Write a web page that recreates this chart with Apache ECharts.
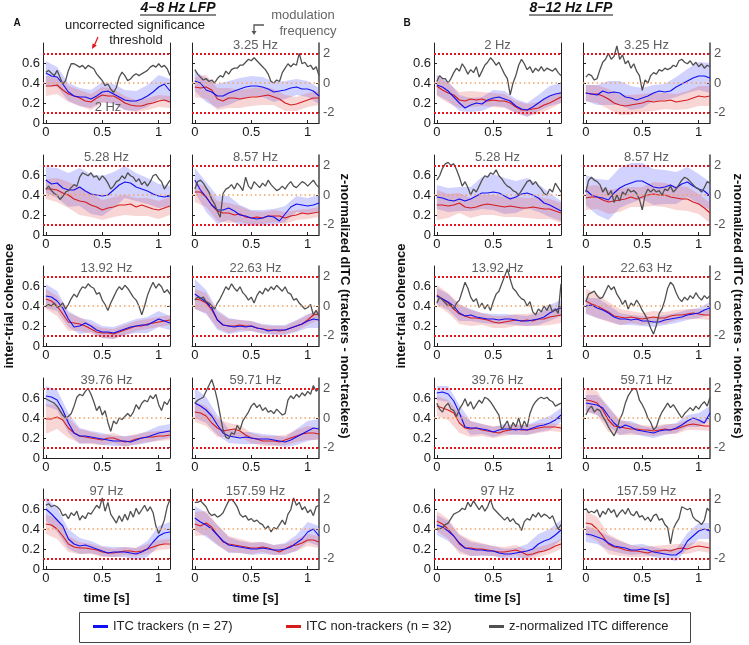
<!DOCTYPE html>
<html><head><meta charset="utf-8">
<script src="https://cdn.jsdelivr.net/npm/echarts@6/dist/echarts.min.js"></script>
<style>html,body{margin:0;padding:0;background:#fff}#main{width:749px;height:645px}</style>
</head><body><div id="main"></div>
<script>
// ---------- time bases ----------
const tMean = [0,0.05,0.1,0.15,0.2,0.25,0.3,0.35,0.4,0.45,0.5,0.55,0.6,0.65,0.7,0.75,0.8,0.85,0.9,0.95,1.0,1.05,1.1];
const tBand = [0,0.1,0.2,0.3,0.4,0.5,0.6,0.7,0.8,0.9,1.0,1.1];
const tGray = [0,0.025,0.05,0.075,0.1,0.125,0.15,0.175,0.2,0.225,0.25,0.275,0.3,0.325,0.35,0.375,0.4,0.425,0.45,0.475,0.5,0.525,0.55,0.575,0.6,0.625,0.65,0.675,0.7,0.725,0.75,0.775,0.8,0.825,0.85,0.875,0.9,0.925,0.95,0.975,1.0,1.025,1.05,1.075,1.1];
const freqLabels = ['2 Hz','3.25 Hz','5.28 Hz','8.57 Hz','13.92 Hz','22.63 Hz','39.76 Hz','59.71 Hz','97 Hz','157.59 Hz'];
const xTicks = [0,0.5,1];
const leftTicks = [0,0.2,0.4,0.6];
const rightTicks = [-2,0,2];
const seriesNames = ['ITC trackers (n = 27)','ITC non-trackers (n = 32)','z-normalized ITC difference'];

// ---------- A: 4-8 Hz LFP ----------
const A1_blue = [0.5,0.47,0.46,0.39,0.31,0.27,0.26,0.26,0.24,0.27,0.31,0.32,0.29,0.26,0.23,0.22,0.22,0.24,0.27,0.31,0.36,0.39,0.32];
const A1_red = [0.37,0.37,0.38,0.33,0.29,0.27,0.25,0.22,0.21,0.25,0.28,0.27,0.27,0.24,0.2,0.18,0.17,0.17,0.19,0.2,0.22,0.23,0.21];
const A1_blueBand = [0.12,0.1,0.09,0.09,0.09,0.1,0.1,0.1,0.1,0.11,0.12,0.12];
const A1_redBand = [0.1,0.09,0.08,0.08,0.08,0.08,0.07,0.07,0.06,0.06,0.06,0.06];
const A1_gray = [0.73,0.85,0.66,0.5,0.85,0.39,-0.07,0.16,0.85,1.3,1.3,1.19,1.07,1.19,0.96,1.19,1.07,0.96,0.62,0.39,0.16,-0.18,-0.07,-0.41,-0.64,-0.3,0.39,0.73,0.5,0.16,0.27,0.5,0.62,0.5,0.62,0.73,0.85,1.07,1.19,1.07,1.3,1.07,1.19,0.96,0.5];

const A2_blue = [0.42,0.4,0.33,0.31,0.27,0.27,0.3,0.32,0.34,0.36,0.37,0.37,0.36,0.34,0.31,0.32,0.33,0.35,0.36,0.34,0.34,0.32,0.27];
const A2_red = [0.36,0.35,0.36,0.33,0.24,0.22,0.25,0.25,0.24,0.25,0.26,0.26,0.27,0.28,0.26,0.24,0.2,0.18,0.19,0.21,0.23,0.25,0.25];
const A2_blueBand = [0.1,0.12,0.12,0.12,0.11,0.1,0.1,0.1,0.09,0.08,0.08,0.08];
const A2_redBand = [0.1,0.12,0.11,0.1,0.09,0.09,0.09,0.08,0.08,0.07,0.07,0.07];
const A2_gray = [0.9,0.6,0.4,0.2,0.3,0.1,0.2,0.0,0.3,0.5,0.4,0.8,0.6,0.9,1.0,1.0,1.2,1.2,1.4,1.6,1.5,1.7,1.5,1.3,1.1,0.9,0.6,0.1,0.0,0.2,0.1,0.7,1.0,1.3,1.1,1.3,1.2,2.0,1.3,1.4,1.1,1.2,0.9,1.1,0.5];

const A3_blue = [0.55,0.51,0.52,0.47,0.45,0.45,0.48,0.44,0.41,0.4,0.39,0.4,0.45,0.5,0.53,0.52,0.48,0.46,0.44,0.41,0.39,0.38,0.39];
const A3_red = [0.46,0.46,0.45,0.42,0.4,0.36,0.34,0.33,0.3,0.28,0.25,0.27,0.28,0.3,0.3,0.31,0.28,0.3,0.28,0.26,0.25,0.27,0.29];
const A3_blueBand = [0.13,0.15,0.17,0.19,0.2,0.2,0.18,0.16,0.14,0.13,0.12,0.1];
const A3_redBand = [0.1,0.12,0.13,0.14,0.12,0.1,0.1,0.1,0.09,0.09,0.09,0.09];
const A3_gray = [0.4,0.6,0.3,0.1,0.0,-0.3,-0.1,0.2,0.3,0.5,0.7,0.6,1.2,1.5,1.4,1.3,1.5,1.2,1.3,1.0,1.3,1.1,0.8,0.4,0.6,0.9,1.0,1.3,1.1,1.5,1.3,1.2,0.9,1.1,0.7,0.9,0.6,0.9,1.3,1.4,1.1,0.9,0.4,0.7,1.0];

const A4_blue = [0.55,0.45,0.38,0.3,0.25,0.25,0.27,0.24,0.2,0.19,0.17,0.16,0.17,0.19,0.18,0.14,0.21,0.28,0.31,0.3,0.29,0.3,0.32];
const A4_red = [0.43,0.43,0.38,0.3,0.24,0.22,0.22,0.2,0.21,0.18,0.17,0.18,0.17,0.19,0.19,0.19,0.17,0.19,0.2,0.22,0.21,0.22,0.23];
const A4_blueBand = [0.12,0.15,0.14,0.12,0.1,0.08,0.08,0.08,0.08,0.08,0.08,0.08];
const A4_redBand = [0.1,0.1,0.1,0.1,0.08,0.07,0.06,0.06,0.06,0.05,0.05,0.05];
const A4_gray = [0.4,0.9,1.0,0.8,0.5,0.2,-0.3,-0.6,-1.1,-1.5,0.1,0.4,0.5,0.7,0.4,0.8,0.6,0.3,1.2,0.6,0.4,0.9,0.7,0.5,0.8,0.6,1.0,0.7,0.5,0.3,0.4,0.6,0.4,0.7,0.9,0.6,0.5,0.7,0.9,0.8,0.6,0.8,1.0,0.7,0.5];

const A5_blue = [0.5,0.49,0.45,0.38,0.27,0.19,0.2,0.23,0.2,0.16,0.14,0.14,0.13,0.15,0.17,0.19,0.2,0.21,0.21,0.24,0.27,0.25,0.23];
const A5_red = [0.47,0.45,0.4,0.32,0.24,0.23,0.22,0.2,0.17,0.14,0.13,0.13,0.12,0.14,0.16,0.18,0.2,0.2,0.22,0.23,0.24,0.25,0.26];
const A5_blueBand = [0.12,0.1,0.08,0.08,0.06,0.06,0.06,0.06,0.07,0.08,0.08,0.07];
const A5_redBand = [0.1,0.1,0.09,0.07,0.05,0.05,0.05,0.05,0.05,0.05,0.05,0.05];
const A5_gray = [0.0,0.1,0.0,0.2,-0.1,0.0,0.2,-0.2,0.1,0.5,0.8,0.6,1.0,1.3,1.2,1.5,1.3,1.2,0.8,0.9,0.4,0.1,-0.3,0.2,0.6,1.0,1.3,1.1,1.4,1.2,0.9,0.6,0.4,0.0,-0.6,0.0,0.7,1.2,1.6,1.2,1.5,1.3,0.9,1.1,0.8];

const A6_blue = [0.52,0.48,0.44,0.38,0.26,0.21,0.2,0.19,0.2,0.19,0.2,0.18,0.17,0.15,0.16,0.16,0.16,0.18,0.2,0.22,0.25,0.27,0.26];
const A6_red = [0.47,0.46,0.43,0.36,0.26,0.21,0.2,0.2,0.21,0.2,0.2,0.18,0.17,0.16,0.16,0.15,0.16,0.18,0.2,0.22,0.26,0.31,0.32];
const A6_blueBand = [0.15,0.12,0.1,0.08,0.06,0.05,0.05,0.05,0.05,0.06,0.07,0.08];
const A6_redBand = [0.1,0.1,0.08,0.07,0.05,0.05,0.04,0.04,0.04,0.05,0.05,0.06];
const A6_gray = [0.4,0.6,0.5,0.6,0.3,0.2,0.0,-0.2,0.2,0.5,0.9,1.3,1.1,1.5,1.2,1.0,1.3,0.9,0.7,0.4,0.6,0.2,0.7,1.0,0.8,1.2,1.0,1.3,1.1,1.4,1.2,1.0,1.3,0.9,0.8,0.4,0.5,0.2,0.0,-0.2,-0.1,0.1,-0.6,-0.3,-0.7];

const A7_blue = [0.62,0.61,0.58,0.48,0.35,0.25,0.22,0.22,0.21,0.2,0.19,0.18,0.17,0.17,0.17,0.16,0.18,0.2,0.21,0.23,0.25,0.26,0.27];
const A7_red = [0.39,0.39,0.41,0.38,0.3,0.25,0.22,0.21,0.2,0.19,0.18,0.2,0.2,0.18,0.16,0.17,0.19,0.2,0.21,0.21,0.22,0.22,0.23];
const A7_blueBand = [0.1,0.1,0.1,0.08,0.06,0.06,0.05,0.05,0.05,0.06,0.07,0.07];
const A7_redBand = [0.15,0.12,0.1,0.07,0.06,0.05,0.05,0.05,0.05,0.05,0.05,0.05];
const A7_gray = [1.3,1.2,1.1,1.0,0.8,0.5,0.2,0.0,0.1,0.3,0.8,1.4,1.6,1.5,1.8,2.0,1.6,1.1,0.5,0.8,0.2,0.5,-0.3,-0.9,-0.2,-0.4,0.0,-0.1,0.1,0.3,0.1,0.4,0.9,0.6,1.0,1.2,1.1,1.5,1.3,1.6,0.9,0.5,1.1,0.9,1.3];

const A8_blue = [0.55,0.52,0.48,0.42,0.33,0.25,0.22,0.21,0.2,0.21,0.2,0.19,0.19,0.19,0.18,0.17,0.16,0.18,0.21,0.24,0.27,0.3,0.29];
const A8_red = [0.46,0.45,0.42,0.35,0.3,0.27,0.28,0.29,0.27,0.23,0.2,0.19,0.17,0.17,0.17,0.16,0.18,0.2,0.22,0.24,0.25,0.25,0.24];
const A8_blueBand = [0.15,0.13,0.1,0.07,0.06,0.06,0.05,0.05,0.05,0.08,0.1,0.1];
const A8_redBand = [0.1,0.1,0.09,0.07,0.06,0.05,0.05,0.05,0.05,0.06,0.07,0.06];
const A8_gray = [1.0,1.2,1.3,1.4,1.8,2.2,2.6,2.0,1.2,0.2,-0.8,-1.3,-1.4,-1.0,-1.1,-0.5,-0.8,-0.2,0.1,0.4,0.8,1.0,0.7,0.9,0.5,0.7,0.4,0.5,0.3,0.6,0.4,0.2,0.3,1.2,1.5,1.3,1.6,1.4,1.7,1.5,1.8,1.6,2.2,1.8,2.0];

const A9_blue = [0.6,0.55,0.49,0.43,0.3,0.25,0.23,0.24,0.22,0.2,0.18,0.16,0.17,0.17,0.17,0.16,0.15,0.17,0.2,0.27,0.33,0.36,0.37];
const A9_red = [0.45,0.44,0.4,0.33,0.25,0.22,0.21,0.21,0.2,0.19,0.17,0.16,0.16,0.17,0.18,0.18,0.17,0.18,0.2,0.22,0.24,0.25,0.25];
const A9_blueBand = [0.12,0.12,0.1,0.08,0.06,0.05,0.05,0.05,0.06,0.08,0.1,0.1];
const A9_redBand = [0.1,0.1,0.08,0.06,0.05,0.05,0.04,0.04,0.04,0.05,0.05,0.05];
const A9_gray = [1.6,1.7,1.5,1.6,1.5,1.3,0.9,1.0,0.7,1.1,0.9,1.2,0.6,0.9,0.7,1.1,1.0,1.3,1.6,1.4,2.1,1.2,1.8,1.0,0.7,0.4,0.9,0.5,1.0,0.6,1.2,0.8,1.4,1.0,1.3,1.6,1.2,1.5,1.1,0.2,-0.3,0.1,0.6,1.5,2.0];

const A10_blue = [0.51,0.47,0.44,0.4,0.34,0.28,0.24,0.23,0.22,0.21,0.2,0.2,0.21,0.2,0.19,0.19,0.2,0.22,0.26,0.3,0.37,0.4,0.33];
const A10_red = [0.45,0.43,0.46,0.42,0.34,0.27,0.25,0.24,0.23,0.22,0.21,0.21,0.22,0.21,0.19,0.17,0.2,0.23,0.24,0.26,0.29,0.29,0.27];
const A10_blueBand = [0.12,0.12,0.1,0.08,0.06,0.06,0.06,0.05,0.06,0.08,0.1,0.1];
const A10_redBand = [0.12,0.12,0.1,0.08,0.07,0.06,0.05,0.05,0.05,0.06,0.06,0.06];
const A10_gray = [1.8,1.8,1.9,1.7,1.5,1.1,0.9,1.0,0.8,0.9,1.1,1.5,1.9,2.0,1.8,1.5,1.0,0.8,0.9,0.6,0.7,0.5,0.6,0.4,0.3,0.0,0.2,-0.2,0.1,0.0,0.3,0.6,0.3,1.0,1.3,2.1,1.6,1.8,1.3,1.5,1.1,1.3,0.9,1.5,1.6];

// ---------- B: 8-12 Hz LFP ----------
const B1_blue = [0.38,0.36,0.32,0.26,0.2,0.15,0.18,0.2,0.19,0.23,0.25,0.26,0.24,0.22,0.17,0.14,0.13,0.16,0.2,0.24,0.27,0.29,0.3];
const B1_red = [0.37,0.33,0.3,0.28,0.23,0.22,0.24,0.23,0.24,0.22,0.23,0.22,0.22,0.2,0.16,0.13,0.13,0.14,0.15,0.18,0.2,0.23,0.26];
const B1_blueBand = [0.1,0.1,0.08,0.07,0.07,0.08,0.08,0.07,0.07,0.08,0.1,0.1];
const B1_redBand = [0.1,0.1,0.08,0.08,0.07,0.07,0.07,0.06,0.06,0.06,0.06,0.06];
const B1_gray = [0.1,0.5,0.3,0.3,0.0,0.3,0.7,1.0,0.8,1.3,1.0,0.6,0.9,0.7,1.1,0.4,0.8,1.2,1.4,1.7,1.5,1.2,1.4,1.0,0.6,0.3,-0.8,0.0,0.5,1.2,1.6,1.3,0.9,1.1,0.7,1.0,0.8,1.1,0.8,1.0,0.9,0.8,1.0,0.7,0.5];

const B2_blue = [0.3,0.29,0.28,0.32,0.3,0.31,0.3,0.26,0.25,0.23,0.25,0.27,0.3,0.32,0.31,0.32,0.36,0.39,0.42,0.45,0.47,0.47,0.45];
const B2_red = [0.3,0.29,0.29,0.27,0.24,0.2,0.18,0.17,0.18,0.19,0.2,0.22,0.21,0.22,0.22,0.23,0.21,0.22,0.23,0.25,0.27,0.26,0.27];
const B2_blueBand = [0.08,0.1,0.12,0.12,0.12,0.1,0.08,0.08,0.1,0.12,0.14,0.15];
const B2_redBand = [0.08,0.09,0.1,0.1,0.1,0.09,0.09,0.08,0.08,0.09,0.1,0.1];
const B2_gray = [0.4,0.6,0.5,0.2,0.3,0.9,1.4,1.6,2.0,1.6,1.8,2.5,1.6,1.9,1.3,1.5,1.0,1.3,0.8,0.5,-0.5,0.2,0.0,0.5,0.7,0.6,0.9,0.8,1.0,0.9,1.0,1.2,1.1,1.5,1.6,1.4,1.3,1.5,1.2,1.4,1.1,1.3,1.0,1.2,1.1];

const B3_blue = [0.38,0.37,0.35,0.34,0.36,0.34,0.36,0.39,0.42,0.42,0.43,0.42,0.39,0.36,0.38,0.41,0.42,0.4,0.37,0.32,0.3,0.27,0.24];
const B3_red = [0.3,0.3,0.29,0.3,0.32,0.28,0.27,0.28,0.3,0.31,0.3,0.29,0.28,0.29,0.28,0.27,0.27,0.28,0.27,0.26,0.26,0.24,0.22];
const B3_blueBand = [0.12,0.12,0.12,0.12,0.16,0.18,0.18,0.16,0.15,0.14,0.12,0.1];
const B3_redBand = [0.15,0.12,0.1,0.1,0.1,0.1,0.1,0.1,0.1,0.11,0.1,0.1];
const B3_gray = [1.0,1.3,1.8,2.1,2.2,2.0,2.1,1.7,1.2,0.6,0.9,0.5,0.0,0.4,0.2,0.6,1.0,1.3,1.2,1.5,1.4,1.7,1.3,1.1,0.8,0.6,0.5,0.3,0.2,0.0,0.3,0.6,0.9,1.0,0.7,0.9,0.6,0.4,0.1,0.0,0.4,0.2,0.8,0.5,0.2];

const B4_blue = [0.45,0.4,0.38,0.37,0.35,0.42,0.47,0.5,0.52,0.54,0.54,0.51,0.48,0.47,0.48,0.5,0.47,0.51,0.53,0.49,0.46,0.44,0.39];
const B4_red = [0.37,0.38,0.38,0.35,0.33,0.34,0.35,0.36,0.38,0.36,0.38,0.4,0.41,0.4,0.4,0.38,0.37,0.36,0.36,0.33,0.31,0.27,0.22];
const B4_blueBand = [0.15,0.18,0.2,0.2,0.2,0.18,0.18,0.17,0.16,0.15,0.15,0.14];
const B4_redBand = [0.12,0.12,0.12,0.12,0.1,0.1,0.12,0.12,0.12,0.12,0.1,0.1];
const B4_gray = [0.2,1.0,1.2,1.0,0.9,0.7,0.2,0.5,0.0,0.3,-0.5,0.0,-0.4,0.2,0.0,0.4,0.2,0.3,0.1,-0.3,-1.0,0.0,0.4,0.2,0.4,0.2,0.3,0.0,0.4,0.3,0.6,0.2,0.4,0.7,1.0,1.2,1.1,0.9,0.7,0.5,0.4,0.2,0.5,0.9,0.8];

const B5_blue = [0.5,0.47,0.44,0.4,0.33,0.3,0.31,0.29,0.28,0.27,0.27,0.26,0.27,0.27,0.26,0.25,0.25,0.26,0.27,0.29,0.33,0.36,0.38];
const B5_red = [0.51,0.47,0.43,0.37,0.32,0.3,0.28,0.28,0.27,0.26,0.24,0.23,0.24,0.25,0.26,0.25,0.26,0.25,0.27,0.27,0.29,0.3,0.31];
const B5_blueBand = [0.08,0.08,0.08,0.06,0.05,0.05,0.05,0.05,0.05,0.06,0.08,0.08];
const B5_redBand = [0.1,0.1,0.1,0.08,0.06,0.06,0.06,0.06,0.06,0.07,0.08,0.08];
const B5_gray = [0.2,0.6,0.4,0.2,0.0,0.1,-0.2,0.2,0.4,1.0,1.6,1.2,0.6,0.3,0.5,-0.1,0.2,-0.2,0.1,-0.3,0.3,0.8,1.0,1.5,2.0,2.5,1.8,1.2,1.0,0.7,0.5,0.4,0.0,0.3,-0.4,-0.6,-0.2,-0.4,0.0,-0.3,0.1,-0.4,-0.2,-0.5,1.5];

const B6_blue = [0.4,0.41,0.38,0.36,0.33,0.29,0.27,0.27,0.26,0.27,0.25,0.25,0.24,0.24,0.26,0.27,0.28,0.29,0.31,0.32,0.33,0.36,0.38];
const B6_red = [0.45,0.42,0.4,0.37,0.34,0.3,0.29,0.28,0.29,0.28,0.27,0.28,0.29,0.28,0.28,0.3,0.31,0.31,0.32,0.33,0.32,0.31,0.31];
const B6_blueBand = [0.08,0.1,0.08,0.06,0.05,0.05,0.05,0.05,0.05,0.05,0.05,0.06];
const B6_redBand = [0.12,0.12,0.1,0.08,0.06,0.06,0.06,0.06,0.05,0.05,0.05,0.05];
const B6_gray = [0.3,0.8,0.9,1.0,0.7,0.5,0.6,1.0,1.4,1.1,1.3,0.8,0.5,0.1,0.4,-0.2,0.2,0.0,0.4,0.1,-0.3,-0.6,-1.0,-1.5,-1.9,-1.3,-0.5,-0.2,0.4,1.2,1.6,1.4,0.9,0.5,0.3,0.6,0.4,0.7,0.5,0.9,0.6,0.4,0.7,0.5,0.7];

const B7_blue = [0.65,0.66,0.64,0.57,0.45,0.31,0.3,0.3,0.29,0.28,0.26,0.28,0.29,0.29,0.28,0.29,0.28,0.3,0.32,0.33,0.35,0.38,0.43];
const B7_red = [0.52,0.5,0.48,0.45,0.35,0.3,0.29,0.3,0.28,0.27,0.26,0.25,0.27,0.28,0.29,0.28,0.28,0.29,0.3,0.31,0.31,0.31,0.3];
const B7_blueBand = [0.07,0.08,0.08,0.07,0.05,0.05,0.05,0.05,0.05,0.06,0.07,0.07];
const B7_redBand = [0.1,0.1,0.1,0.08,0.06,0.06,0.05,0.05,0.05,0.05,0.04,0.04];
const B7_gray = [1.0,0.6,0.4,0.8,1.0,0.6,0.5,0.1,0.6,0.9,1.3,0.8,1.1,0.6,0.9,1.2,1.0,1.4,1.3,1.1,0.8,0.5,0.2,-0.8,-0.5,-0.2,-0.8,-0.3,-0.6,0.0,-0.7,-0.2,-0.6,0.3,0.8,1.1,1.3,1.4,1.3,1.4,1.2,1.1,0.8,0.9,1.0];

const B8_blue = [0.55,0.54,0.53,0.5,0.42,0.35,0.3,0.33,0.31,0.28,0.27,0.26,0.25,0.27,0.28,0.28,0.3,0.33,0.37,0.4,0.38,0.35,0.45];
const B8_red = [0.58,0.57,0.55,0.48,0.38,0.32,0.31,0.3,0.29,0.29,0.28,0.28,0.27,0.28,0.29,0.28,0.29,0.31,0.33,0.34,0.33,0.32,0.32];
const B8_blueBand = [0.08,0.1,0.1,0.07,0.06,0.05,0.05,0.05,0.05,0.06,0.07,0.07];
const B8_redBand = [0.12,0.12,0.12,0.08,0.06,0.05,0.05,0.05,0.05,0.05,0.05,0.05];
const B8_gray = [0.2,0.6,0.8,0.4,0.6,0.5,0.1,-0.2,-0.6,-0.9,-1.2,-0.8,-0.1,0.3,1.0,1.5,1.8,2.0,1.9,1.2,0.9,0.5,0.0,-0.3,-0.8,-0.6,0.0,0.4,0.7,1.0,0.7,0.9,0.6,0.3,0.0,0.3,0.5,0.7,0.5,0.8,0.6,0.9,1.1,0.8,1.4];

const B9_blue = [0.44,0.42,0.38,0.33,0.26,0.21,0.2,0.19,0.19,0.18,0.18,0.16,0.15,0.15,0.16,0.17,0.18,0.2,0.25,0.28,0.3,0.34,0.39];
const B9_red = [0.48,0.45,0.4,0.33,0.25,0.21,0.21,0.2,0.2,0.19,0.18,0.17,0.17,0.18,0.19,0.17,0.14,0.15,0.17,0.18,0.2,0.23,0.25];
const B9_blueBand = [0.1,0.1,0.08,0.07,0.06,0.05,0.05,0.05,0.07,0.1,0.1,0.1];
const B9_redBand = [0.1,0.1,0.1,0.08,0.06,0.05,0.05,0.05,0.05,0.05,0.05,0.05];
const B9_gray = [0.0,0.0,0.1,0.3,0.4,0.7,1.0,1.1,1.2,1.4,1.3,1.8,1.5,1.9,1.6,1.3,1.6,1.2,1.5,2.0,1.4,1.2,1.0,0.8,0.6,0.8,0.5,0.7,0.4,0.3,-0.1,0.5,0.7,0.6,1.0,0.8,1.1,0.8,1.0,0.9,0.7,0.9,0.4,0.0,0.3];

const B10_blue = [0.35,0.34,0.32,0.3,0.26,0.23,0.22,0.21,0.19,0.19,0.2,0.19,0.17,0.16,0.15,0.14,0.14,0.18,0.28,0.33,0.38,0.4,0.38];
const B10_red = [0.46,0.45,0.4,0.33,0.25,0.22,0.21,0.19,0.18,0.18,0.17,0.16,0.18,0.18,0.19,0.18,0.2,0.21,0.2,0.22,0.23,0.22,0.21];
const B10_blueBand = [0.08,0.07,0.07,0.06,0.05,0.05,0.05,0.05,0.06,0.08,0.08,0.08];
const B10_redBand = [0.12,0.12,0.1,0.08,0.06,0.05,0.05,0.05,0.05,0.05,0.05,0.05];
const B10_gray = [1.4,1.1,1.2,1.1,1.3,0.8,1.2,1.0,1.4,1.1,1.3,0.8,1.1,1.3,1.0,1.4,1.0,0.9,1.2,0.8,0.9,0.6,0.8,0.5,0.9,1.0,0.6,0.7,0.3,0.1,-1.0,0.0,0.4,0.7,1.5,1.4,1.3,1.4,0.8,0.6,0.5,0.3,0.6,1.4,1.2];

// ---------- assemble ----------
const panelsA = [
  [A1_blue,A1_red,A1_blueBand,A1_redBand,A1_gray],[A2_blue,A2_red,A2_blueBand,A2_redBand,A2_gray],
  [A3_blue,A3_red,A3_blueBand,A3_redBand,A3_gray],[A4_blue,A4_red,A4_blueBand,A4_redBand,A4_gray],
  [A5_blue,A5_red,A5_blueBand,A5_redBand,A5_gray],[A6_blue,A6_red,A6_blueBand,A6_redBand,A6_gray],
  [A7_blue,A7_red,A7_blueBand,A7_redBand,A7_gray],[A8_blue,A8_red,A8_blueBand,A8_redBand,A8_gray],
  [A9_blue,A9_red,A9_blueBand,A9_redBand,A9_gray],[A10_blue,A10_red,A10_blueBand,A10_redBand,A10_gray]];
const panelsB = [
  [B1_blue,B1_red,B1_blueBand,B1_redBand,B1_gray],[B2_blue,B2_red,B2_blueBand,B2_redBand,B2_gray],
  [B3_blue,B3_red,B3_blueBand,B3_redBand,B3_gray],[B4_blue,B4_red,B4_blueBand,B4_redBand,B4_gray],
  [B5_blue,B5_red,B5_blueBand,B5_redBand,B5_gray],[B6_blue,B6_red,B6_blueBand,B6_redBand,B6_gray],
  [B7_blue,B7_red,B7_blueBand,B7_redBand,B7_gray],[B8_blue,B8_red,B8_blueBand,B8_redBand,B8_gray],
  [B9_blue,B9_red,B9_blueBand,B9_redBand,B9_gray],[B10_blue,B10_red,B10_blueBand,B10_redBand,B10_gray]];

const FONT = 'Liberation Sans, Arial, Helvetica, sans-serif';
const colLeft = {A:[43,192], B:[434,583]};
const rowTop = [43,155,266,378,489];
const PW = 127, PH = 80;
const BLUE = '#1010f2', RED = '#d41c1c', GRAY = '#505050';
const BLUE_FILL = 'rgba(95,95,250,0.28)', RED_FILL = 'rgba(225,85,85,0.24)';

const grid = [], xAxis = [], yAxis = [], series = [], graphic = [];

function bandSeries(gi, mean, hw, fill) {
  return {
    type: 'custom', xAxisIndex: gi, yAxisIndex: 2*gi, silent: true, z: 1,
    data: [[0.5, 0.4]],
    renderItem: function (params, api) {
      const up = [], lo = [];
      for (let j = 0; j < tBand.length; j++) {
        const m = mean[2*j];
        up.push(api.coord([tBand[j], m + hw[j]]));
        lo.push(api.coord([tBand[j], m - hw[j]]));
      }
      return { type: 'polygon', shape: { points: up.concat(lo.reverse()) }, style: { fill: fill } };
    }
  };
}

let gi = 0;
[['A', panelsA], ['B', panelsB]].forEach(function (pair) {
  const g = pair[0], plist = pair[1];
  plist.forEach(function (p, k) {
    const row = Math.floor(k/2), col = k % 2;
    const left = colLeft[g][col], top = rowTop[row];
    grid.push({ left: left, top: top, width: PW, height: PH, containLabel: false });
    xAxis.push({
      gridIndex: gi, type: 'value', min: -0.025, max: 1.1,
      axisLine: { show: true, onZero: false, lineStyle: { color: '#222', width: 1 } },
      axisTick: { show: true, inside: true, length: 3, customValues: xTicks, lineStyle: { color: '#222' } },
      axisLabel: { show: true, customValues: xTicks, fontSize: 13, color: '#1a1a1a', margin: 3, fontFamily: FONT },
      splitLine: { show: false }
    });
    yAxis.push({
      gridIndex: gi, type: 'value', min: 0, max: 0.8, position: 'left',
      axisLine: { show: true, onZero: false, lineStyle: { color: '#222', width: 1 } },
      axisTick: { show: true, inside: true, length: 3, customValues: leftTicks, lineStyle: { color: '#222' } },
      axisLabel: { show: col === 0, customValues: leftTicks, fontSize: 13, color: '#1a1a1a', margin: 3, fontFamily: FONT },
      splitLine: { show: false }
    });
    yAxis.push({
      gridIndex: gi, type: 'value', min: -2.7, max: 2.7, position: 'right',
      axisLine: { show: true, onZero: false, lineStyle: { color: col === 1 ? '#444' : '#222', width: col === 1 ? 1.5 : 1 } },
      axisTick: { show: true, inside: true, length: 3, customValues: rightTicks, lineStyle: { color: '#444' } },
      axisLabel: { show: col === 1, customValues: rightTicks, fontSize: 13, color: '#555', margin: 4, fontFamily: FONT },
      splitLine: { show: false }
    });
    const blue = p[0], red = p[1], bb = p[2], rb = p[3], gray = p[4];
    series.push(bandSeries(gi, blue, bb, BLUE_FILL));
    series.push(bandSeries(gi, red, rb, RED_FILL));
    series.push({
      name: seriesNames[1], type: 'line', xAxisIndex: gi, yAxisIndex: 2*gi, z: 3,
      data: tMean.map(function (t, j) { return [t, red[j]]; }),
      symbol: 'none', color: RED, itemStyle: { color: RED }, lineStyle: { color: RED, width: 1.1 }
    });
    series.push({
      name: seriesNames[0], type: 'line', xAxisIndex: gi, yAxisIndex: 2*gi, z: 3,
      data: tMean.map(function (t, j) { return [t, blue[j]]; }),
      symbol: 'none', color: BLUE, itemStyle: { color: BLUE }, lineStyle: { color: BLUE, width: 1.1 }
    });
    series.push({
      name: seriesNames[2], type: 'line', xAxisIndex: gi, yAxisIndex: 2*gi+1, z: 4,
      data: tGray.map(function (t, j) { return [t, gray[j]]; }),
      symbol: 'none', color: GRAY, itemStyle: { color: GRAY }, lineStyle: { color: GRAY, width: 1.3 },
      markLine: {
        silent: true, symbol: ['none','none'], label: { show: false }, animation: false,
        data: [
          { yAxis: 2, lineStyle: { color: '#e3141c', type: [2,2], width: 2 } },
          { yAxis: -2, lineStyle: { color: '#e3141c', type: [2,2], width: 2 } },
          { yAxis: 0, lineStyle: { color: '#f4a266', type: [1.5,3], width: 1.5 } }
        ]
      }
    });
    // frequency label
    const isSpecial = (g === 'A' && k === 0);
    graphic.push({
      type: 'text', x: isSpecial ? left + 65 : left + PW/2, y: isSpecial ? top + 64 : top + 2, z: 10,
      style: { text: freqLabels[k], fill: '#5e5e5e', font: '13px ' + FONT, textAlign: 'center', textVerticalAlign: 'middle' }
    });
    gi++;
  });
});

// titles & annotations
function txt(x, y, s, font, fill, rot) {
  graphic.push({ type: 'text', x: x, y: y, rotation: rot || 0, z: 10,
    style: { text: s, font: font, fill: fill, textAlign: 'center', textVerticalAlign: 'middle' } });
}
txt(178, 8, '4\u22128 Hz LFP', 'italic bold 14px ' + FONT, '#111');
txt(571, 8, '8\u221212 Hz LFP', 'italic bold 14px ' + FONT, '#111');
graphic.push({ type: 'line', shape: { x1: 140, y1: 15, x2: 216, y2: 15 }, style: { stroke: '#111', lineWidth: 1 } });
graphic.push({ type: 'line', shape: { x1: 529, y1: 15, x2: 613, y2: 15 }, style: { stroke: '#111', lineWidth: 1 } });
txt(17, 23, 'A', 'bold 10px ' + FONT, '#111');
txt(407, 23, 'B', 'bold 10px ' + FONT, '#111');
txt(135, 25, 'uncorrected significance', '13px ' + FONT, '#222');
txt(136, 40, 'threshold', '13px ' + FONT, '#222');
graphic.push({ type: 'line', shape: { x1: 98, y1: 37, x2: 94.5, y2: 45 }, style: { stroke: '#e3141c', lineWidth: 1.2 } });
graphic.push({ type: 'polygon', shape: { points: [[92, 49], [92.5, 43.5], [96.8, 45.5]] }, style: { fill: '#e3141c' } });
txt(303, 15, 'modulation', '13px ' + FONT, '#666');
txt(308, 31, 'frequency', '13px ' + FONT, '#666');
graphic.push({ type: 'polyline', shape: { points: [[264, 25], [254, 25], [254, 31]] }, style: { stroke: '#555', lineWidth: 1.3, fill: null } });
graphic.push({ type: 'polygon', shape: { points: [[251.5, 31], [256.5, 31], [254, 35]] }, style: { fill: '#555' } });

const midY = (rowTop[0] + rowTop[4] + PH) / 2;
txt(9, midY, 'inter-trial coherence', 'bold 13px ' + FONT, '#111', Math.PI/2);
txt(401, midY, 'inter-trial coherence', 'bold 13px ' + FONT, '#111', Math.PI/2);
txt(345, midY, 'z-normalized dITC (trackers - non-trackers)', 'bold 13px ' + FONT, '#111', -Math.PI/2);
txt(738, midY, 'z-normalized dITC (trackers - non-trackers)', 'bold 13px ' + FONT, '#111', -Math.PI/2);
[colLeft.A[0], colLeft.A[1], colLeft.B[0], colLeft.B[1]].forEach(function (l) {
  txt(l + PW/2, 598, 'time [s]', 'bold 13px ' + FONT, '#111');
});

// legend box
graphic.push({ type: 'rect', shape: { x: 79.5, y: 612.5, width: 611, height: 30 }, style: { stroke: '#444', lineWidth: 1, fill: null }, z: 0 });

function legendAt(left, name) {
  return { left: left, top: 620, padding: 0, selectedMode: false, data: [name], icon: 'rect',
    itemWidth: 15, itemHeight: 3, itemGap: 0, textStyle: { fontSize: 13, color: '#222', fontFamily: FONT } };
}

const option = {
  animation: false,
  backgroundColor: '#ffffff',
  grid: grid, xAxis: xAxis, yAxis: yAxis, series: series, graphic: graphic,
  legend: [legendAt(93, seriesNames[0]), legendAt(286, seriesNames[1]), legendAt(489, seriesNames[2])]
};
const chart = echarts.init(document.getElementById('main'));
chart.setOption(option);
</script></body></html>
